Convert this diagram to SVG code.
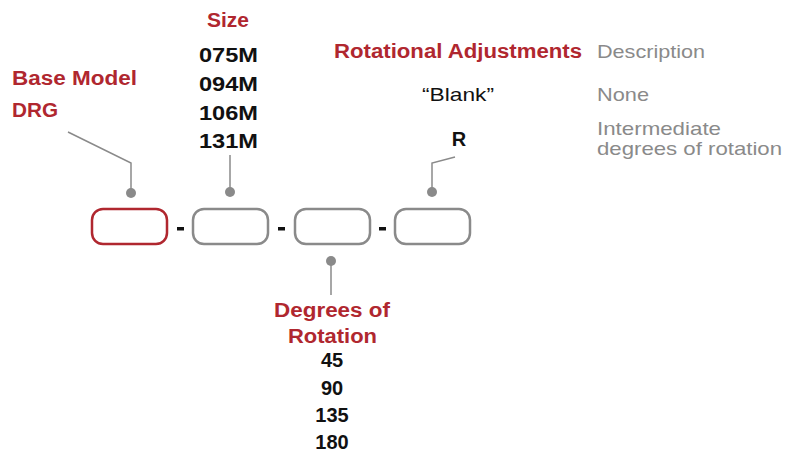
<svg xmlns="http://www.w3.org/2000/svg" width="785" height="454" viewBox="0 0 785 454">
<style>
.red{fill:#b0272f;font-family:"Liberation Sans",Arial,sans-serif;font-weight:bold;font-size:20px}
.blk{fill:#111;font-family:"Liberation Sans",Arial,sans-serif;font-weight:bold;font-size:20px}
.gry{fill:#8a8a8a;font-family:"Liberation Sans",Arial,sans-serif;font-size:19px}
.reg{fill:#111;font-family:"Liberation Sans",Arial,sans-serif;font-size:19px}
.box{fill:#fff;stroke:#8a8a8a;stroke-width:2.5}
.line{fill:none;stroke:#8a8a8a;stroke-width:1.5}
.dot{fill:#8a8a8a}
</style>
<rect width="785" height="454" fill="#fff"/>
<g id="connectors">
<polyline class="line" points="68,132 131,163 131,193"/>
<circle class="dot" cx="131" cy="193" r="5"/>
<line class="line" x1="230" y1="155" x2="230" y2="192"/>
<circle class="dot" cx="230" cy="192" r="5"/>
<line class="line" x1="331" y1="261" x2="331" y2="295"/>
<circle class="dot" cx="331" cy="261" r="5"/>
<polyline class="line" points="455,157 432,163 432,192"/>
<circle class="dot" cx="432" cy="192" r="5"/>
</g>
<g id="box1"><rect x="92" y="209" width="75" height="35" rx="11" fill="#fff" stroke="#b0272f" stroke-width="2.5"/></g>
<g id="box2"><rect class="box" x="193" y="209" width="75" height="35" rx="11"/></g>
<g id="box3"><rect class="box" x="295" y="209" width="75" height="35" rx="11"/></g>
<g id="box4"><rect class="box" x="395" y="209" width="75" height="35" rx="11"/></g>
<g id="dashes">
<rect x="177" y="227" width="7" height="3.5" fill="#111"/>
<rect x="278" y="227" width="7" height="3.5" fill="#111"/>
<rect x="379" y="227" width="7" height="3.5" fill="#111"/>
</g>
<g id="base-model">
<text class="red" x="12" y="85" textLength="125" lengthAdjust="spacingAndGlyphs">Base Model</text>
<text class="red" x="12" y="117" textLength="46" lengthAdjust="spacingAndGlyphs">DRG</text>
</g>
<g id="size">
<text class="red" x="207" y="27" font-size="18" textLength="42" lengthAdjust="spacingAndGlyphs">Size</text>
<text class="blk" x="199" y="62" textLength="59" lengthAdjust="spacingAndGlyphs">075M</text>
<text class="blk" x="199" y="91" textLength="59" lengthAdjust="spacingAndGlyphs">094M</text>
<text class="blk" x="199" y="120" textLength="59" lengthAdjust="spacingAndGlyphs">106M</text>
<text class="blk" x="199" y="148" textLength="59" lengthAdjust="spacingAndGlyphs">131M</text>
</g>
<g id="rotational-adjustments">
<text class="red" x="334" y="58" textLength="248" lengthAdjust="spacingAndGlyphs">Rotational Adjustments</text>
<text class="gry" x="597" y="58" textLength="108" lengthAdjust="spacingAndGlyphs">Description</text>
<text class="reg" x="422" y="101" textLength="72" lengthAdjust="spacingAndGlyphs">“Blank”</text>
<text class="gry" x="597" y="101" textLength="52" lengthAdjust="spacingAndGlyphs">None</text>
<text class="blk" x="459" y="146" text-anchor="middle" font-size="19">R</text>
<text class="gry" x="597" y="135" textLength="124" lengthAdjust="spacingAndGlyphs">Intermediate</text>
<text class="gry" x="597" y="155" textLength="185" lengthAdjust="spacingAndGlyphs">degrees of rotation</text>
</g>
<g id="degrees-of-rotation">
<text class="red" x="274" y="317" textLength="116" lengthAdjust="spacingAndGlyphs">Degrees of</text>
<text class="red" x="288" y="343" textLength="89" lengthAdjust="spacingAndGlyphs">Rotation</text>
<text class="blk" x="332" y="367" text-anchor="middle">45</text>
<text class="blk" x="332" y="395" text-anchor="middle">90</text>
<text class="blk" x="332" y="422" text-anchor="middle">135</text>
<text class="blk" x="332" y="449" text-anchor="middle">180</text>
</g>
</svg>
